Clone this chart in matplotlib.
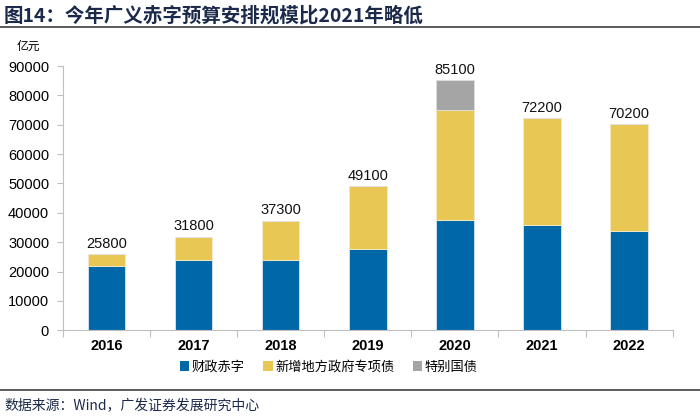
import matplotlib
matplotlib.use("Agg")
import matplotlib.pyplot as plt
from matplotlib.lines import Line2D
from matplotlib.patches import Patch

plt.rcParams["font.family"] = ["Noto Sans CJK SC", "DejaVu Sans"]

years = ["2016", "2017", "2018", "2019", "2020", "2021", "2022"]
deficit = [21800, 23800, 23800, 27600, 37600, 35700, 33700]
special_local = [4000, 8000, 13500, 21500, 37500, 36500, 36500]
special_treasury = [0, 0, 0, 0, 10000, 0, 0]
totals = [25800, 31800, 37300, 49100, 85100, 72200, 70200]

series_names = ["财政赤字", "新增地方政府专项债", "特别国债"]
colors = ["#0068A8", "#E8C754", "#A5A5A5"]

fig = plt.figure(figsize=(7, 4.18), dpi=100)
ax = fig.add_axes([0.09, 0.21, 0.871, 0.632])

x = list(range(len(years)))
w = 0.43
ax.bar(x, deficit, w, color=colors[0], edgecolor="#DDE6EE", linewidth=0.6)
ax.bar(x, special_local, w, bottom=deficit, color=colors[1], edgecolor="#F3EAC8", linewidth=0.6)
bottom2 = [a + b for a, b in zip(deficit, special_local)]
ax.bar(x, special_treasury, w, bottom=bottom2, color=colors[2], edgecolor="#E0E0E0", linewidth=0.6)

for xi, t in zip(x, totals):
    ax.text(xi, t + 1200, str(t), ha="center", va="bottom", fontsize=10.5,
            family=["Liberation Sans", "DejaVu Sans"], color="#111111")

ax.set_xlim(-0.5, len(years) - 0.5)
ax.set_ylim(0, 90000)
ax.set_yticks(range(0, 90001, 10000))
ax.set_yticklabels([str(v) for v in range(0, 90001, 10000)],
                   family=["Liberation Sans", "DejaVu Sans"], fontsize=10.5)

ax.set_xticks([i - 0.5 for i in range(len(years) + 1)])
ax.set_xticklabels([])
ax.set_xticks(x, minor=True)
ax.set_xticklabels(years, minor=True, family=["Liberation Sans", "DejaVu Sans"],
                   fontsize=10.5, fontweight="bold")
ax.tick_params(axis="x", which="major", length=5, color="#BFBFBF", direction="out")
ax.tick_params(axis="x", which="minor", length=0, pad=6)
ax.tick_params(axis="y", length=4, color="#BFBFBF", direction="out", pad=6)

for s in ["top", "right"]:
    ax.spines[s].set_visible(False)
ax.spines["left"].set_color("#BFBFBF")
ax.spines["bottom"].set_color("#BFBFBF")

handles = [Patch(facecolor=c, edgecolor="none") for c in colors]
fig.legend(handles, series_names, loc="center", bbox_to_anchor=(0.47, 0.122), ncol=3,
           frameon=False, fontsize=9.5, handlelength=0.7, handleheight=0.7,
           handletextpad=0.2, columnspacing=1.4)

fig.text(0.024, 0.888, "亿元", fontsize=8.5, ha="left", va="center")

fig.text(0.005, 0.962, "图14：今年广义赤字预算安排规模比2021年略低", fontsize=14,
         fontweight="bold", color="#1B2A4A", ha="left", va="center")
fig.add_artist(Line2D([0, 1], [0.935, 0.935], transform=fig.transFigure,
                      color="#404040", linewidth=1.2))
fig.add_artist(Line2D([0, 1], [0.068, 0.068], transform=fig.transFigure,
                      color="#404040", linewidth=1.2))
fig.text(0.007, 0.03, "数据来源：Wind，广发证券发展研究中心", fontsize=10,
         color="#1B2A4A", ha="left", va="center")

fig.savefig("out.png", dpi=100)
